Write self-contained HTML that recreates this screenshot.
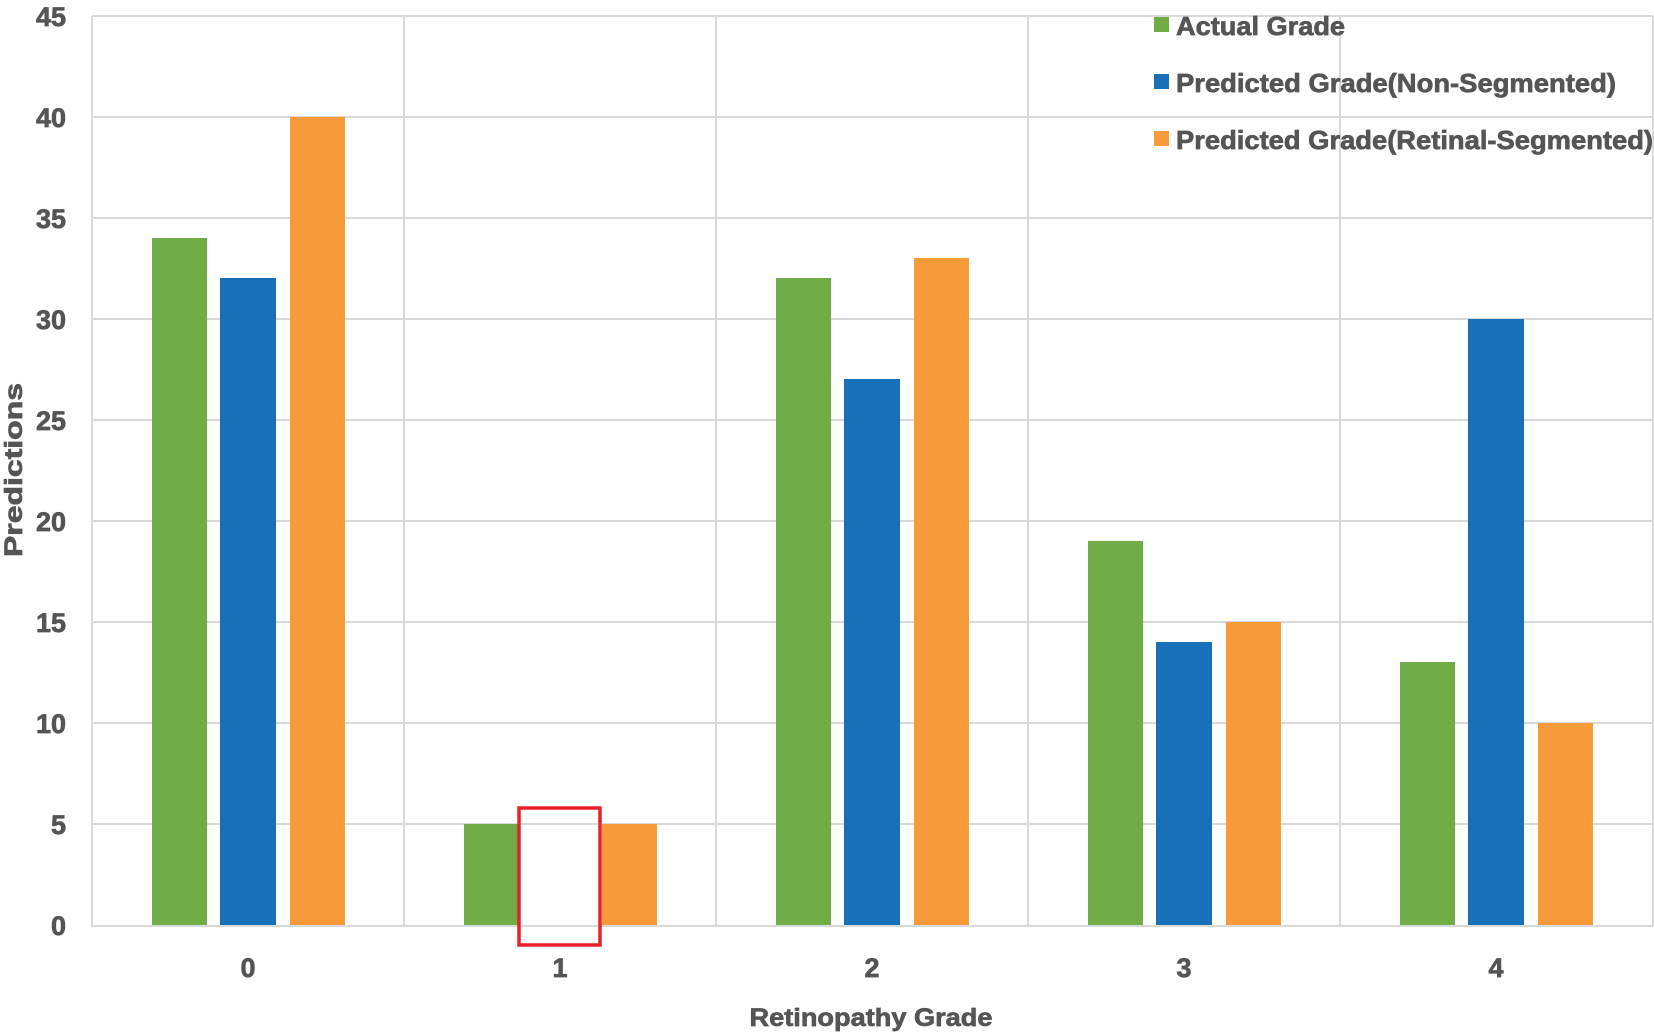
<!DOCTYPE html>
<html><head><meta charset="utf-8"><style>
html,body{margin:0;padding:0;background:#fff;}
svg{display:block;}
text{font-family:"Liberation Sans",Arial,sans-serif;font-weight:bold;fill:#555;stroke:#555;stroke-width:0.7;}
</style></head><body>
<svg width="1654" height="1035" viewBox="0 0 1654 1035" xmlns="http://www.w3.org/2000/svg">
<g stroke="#d9d9d9" stroke-width="2" fill="none">
<line x1="92" y1="16" x2="1653" y2="16"/>
<line x1="92" y1="117" x2="1653" y2="117"/>
<line x1="92" y1="218" x2="1653" y2="218"/>
<line x1="92" y1="319" x2="1653" y2="319"/>
<line x1="92" y1="420" x2="1653" y2="420"/>
<line x1="92" y1="521" x2="1653" y2="521"/>
<line x1="92" y1="622" x2="1653" y2="622"/>
<line x1="92" y1="723" x2="1653" y2="723"/>
<line x1="92" y1="824" x2="1653" y2="824"/>
<line x1="92" y1="16" x2="92" y2="926"/>
<line x1="404" y1="16" x2="404" y2="926"/>
<line x1="716" y1="16" x2="716" y2="926"/>
<line x1="1028" y1="16" x2="1028" y2="926"/>
<line x1="1340" y1="16" x2="1340" y2="926"/>
<line x1="1653" y1="16" x2="1653" y2="926"/>
<line x1="91" y1="926" x2="1653" y2="926"/>
</g>
<g>
<rect x="152" y="238" width="55" height="687" fill="#70AD47"/>
<rect x="220" y="278" width="56" height="647" fill="#1870B8"/>
<rect x="290" y="117" width="55" height="808" fill="#F79A3A"/>

<rect x="464" y="824" width="55" height="101" fill="#70AD47"/>
<rect x="602" y="824" width="55" height="101" fill="#F79A3A"/>

<rect x="776" y="278" width="55" height="647" fill="#70AD47"/>
<rect x="844" y="379" width="56" height="546" fill="#1870B8"/>
<rect x="914" y="258" width="55" height="667" fill="#F79A3A"/>

<rect x="1088" y="541" width="55" height="384" fill="#70AD47"/>
<rect x="1156" y="642" width="56" height="283" fill="#1870B8"/>
<rect x="1226" y="622" width="55" height="303" fill="#F79A3A"/>

<rect x="1400" y="662" width="55" height="263" fill="#70AD47"/>
<rect x="1468" y="319" width="56" height="606" fill="#1870B8"/>
<rect x="1538" y="723" width="55" height="202" fill="#F79A3A"/>
</g>
<rect x="519" y="808" width="81" height="137" fill="none" stroke="#E8202A" stroke-width="3.5"/>
<g font-size="27" text-anchor="end">
<text x="66" y="26">45</text>
<text x="66" y="127">40</text>
<text x="66" y="228">35</text>
<text x="66" y="329">30</text>
<text x="66" y="430">25</text>
<text x="66" y="531">20</text>
<text x="66" y="632">15</text>
<text x="66" y="733">10</text>
<text x="66" y="834">5</text>
<text x="66" y="935">0</text>
</g>
<g font-size="27" text-anchor="middle">
<text x="248" y="977">0</text>
<text x="560" y="977">1</text>
<text x="872" y="977">2</text>
<text x="1184" y="977">3</text>
<text x="1496" y="977">4</text>
</g>
<text x="871" y="1026" font-size="25" text-anchor="middle" textLength="243" lengthAdjust="spacingAndGlyphs">Retinopathy Grade</text>
<text transform="translate(22,470) rotate(-90)" font-size="25" text-anchor="middle" textLength="174" lengthAdjust="spacingAndGlyphs">Predictions</text>
<rect x="1154" y="17" width="15" height="15" fill="#70AD47"/>
<rect x="1154" y="74" width="15" height="15" fill="#1870B8"/>
<rect x="1154" y="131" width="15" height="15" fill="#F79A3A"/>
<g font-size="26">
<text x="1176" y="35" textLength="169" lengthAdjust="spacingAndGlyphs">Actual Grade</text>
<text x="1176" y="92" textLength="440" lengthAdjust="spacingAndGlyphs">Predicted Grade(Non-Segmented)</text>
<text x="1176" y="149" textLength="477" lengthAdjust="spacingAndGlyphs">Predicted Grade(Retinal-Segmented)</text>
</g>
</svg>
</body></html>
